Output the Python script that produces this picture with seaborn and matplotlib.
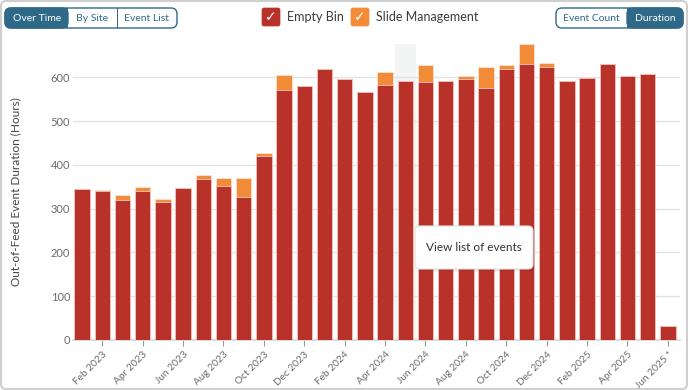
import matplotlib
matplotlib.use("Agg")
import matplotlib.pyplot as plt
from matplotlib.patches import FancyBboxPatch, Rectangle
import seaborn as sns
import pandas as pd

MONTHS = ["Jan 2023", "Feb 2023", "Mar 2023", "Apr 2023", "May 2023", "Jun 2023",
          "Jul 2023", "Aug 2023", "Sep 2023", "Oct 2023", "Nov 2023", "Dec 2023",
          "Jan 2024", "Feb 2024", "Mar 2024", "Apr 2024", "May 2024", "Jun 2024",
          "Jul 2024", "Aug 2024", "Sep 2024", "Oct 2024", "Nov 2024", "Dec 2024",
          "Jan 2025", "Feb 2025", "Mar 2025", "Apr 2025", "May 2025", "Jun 2025"]
EMPTY_BIN = [344, 340, 320, 340, 316, 347, 367, 352, 327, 421, 571, 579,
             619, 595, 567, 583, 592, 590, 592, 595, 576, 618, 630, 623,
             592, 599, 631, 604, 608, 33]
SLIDE_MGMT = [1, 2, 12, 9, 7, 0, 10, 18, 42, 7, 34, 0,
              0, 2, 0, 29, 0, 37, 0, 9, 48, 11, 46, 9,
              0, 0, 0, 0, 0, 0]
TICK_LABELS = ["Feb 2023", "Apr 2023", "Jun 2023", "Aug 2023", "Oct 2023", "Dec 2023",
               "Feb 2024", "Apr 2024", "Jun 2024", "Aug 2024", "Oct 2024", "Dec 2024",
               "Feb 2025", "Apr 2025", "Jun 2025 *"]
Y_TICKS = [0, 100, 200, 300, 400, 500, 600]
HOVER_MONTH = "May 2024"

RED = "#b8322a"
ORANGE = "#f28c38"
TEAL = "#2e6a88"
GREY_TXT = "#6b6b6b"

sns.set_theme(style="white")
plt.rcParams["font.family"] = ["Lato", "DejaVu Sans"]

df = pd.DataFrame({"month": MONTHS, "empty": EMPTY_BIN, "slide": SLIDE_MGMT})
df["total"] = df["empty"] + df["slide"]

fig = plt.figure(figsize=(6.88, 3.9), dpi=100, facecolor="white")
ax = fig.add_axes([73 / 688, 1 - 340 / 390, (680 - 73) / 688, (340 - 44) / 390])

hover_idx = MONTHS.index(HOVER_MONTH)
ax.axvspan(hover_idx - 0.5, hover_idx + 0.5, color="#f3f4f4", zorder=0)

sns.barplot(data=df, x="month", y="total", color=ORANGE, saturation=1, width=0.76,
            edgecolor="#fbe3d3", linewidth=0.6, ax=ax, zorder=2)
sns.barplot(data=df, x="month", y="empty", color=RED, saturation=1, width=0.76,
            edgecolor="#f0c8c0", linewidth=0.6, ax=ax, zorder=3)

ax.set_xlim(-0.45, 29.6)
ax.set_ylim(0, 676)
ax.set_yticks(Y_TICKS)
ax.set_yticklabels([str(v) for v in Y_TICKS], fontsize=8, color=GREY_TXT)
ax.yaxis.grid(True, color="#e3e3e3", linewidth=1)
ax.set_axisbelow(True)
ax.set_xticks(range(1, len(MONTHS), 2))
ax.set_xticklabels(TICK_LABELS, rotation=45, ha="right", rotation_mode="anchor",
                   fontsize=7.3, color=GREY_TXT)
ax.tick_params(axis="x", length=4, width=0.8, color="#999999", pad=3, bottom=True)
ax.tick_params(axis="y", length=0, pad=2)
ax.set_xlabel("")
ax.set_ylabel("Out-of-Feed Event Duration (Hours)", fontsize=8.5, color="#444444", labelpad=21)
for s in ["top", "right", "left"]:
    ax.spines[s].set_visible(False)
ax.spines["bottom"].set_color("#d8d8d8")

T = fig.dpi_scale_trans


def px(x, y):
    return (x / 100, (390 - y) / 100)


def fpos(x, y):
    return (x / 688, 1 - y / 390)


def box(x0, y0, x1, y1, fc, ec, lw=1, r=4, z=5, alpha=1):
    p = FancyBboxPatch(px(x0, y1), (x1 - x0) / 100, (y1 - y0) / 100,
                       boxstyle=f"round,pad=0,rounding_size={r / 100}",
                       transform=T, fc=fc, ec=ec, lw=lw, zorder=z, alpha=alpha)
    fig.add_artist(p)


# frame
box(1, 1, 687, 389, "none", "#cfcfcf", lw=1.5, r=5)

# left button group
box(5, 8, 177, 28, "white", TEAL, lw=1, r=6)
box(5, 8, 68, 28, TEAL, TEAL, lw=1, r=6, z=6)
fig.add_artist(Rectangle(px(58, 28), 0.1, 0.2, transform=T, fc=TEAL, ec="none", zorder=6))
fig.add_artist(Rectangle(px(117, 28), 0.01, 0.2, transform=T, fc=TEAL, ec="none", zorder=6, lw=0))
for label, cx, col in [("Over Time", 37, "white"), ("By Site", 92.5, TEAL), ("Event List", 147, TEAL)]:
    fig.text(*fpos(cx, 18.5), label, ha="center", va="center", fontsize=7.5, color=col, zorder=7)

# right button group
box(556, 8, 683, 28, "white", TEAL, lw=1, r=6)
box(627, 8, 683, 28, TEAL, TEAL, lw=1, r=6, z=6)
fig.add_artist(Rectangle(px(627, 28), 0.1, 0.2, transform=T, fc=TEAL, ec="none", zorder=6))
for label, cx, col in [("Event Count", 591.5, TEAL), ("Duration", 655, "white")]:
    fig.text(*fpos(cx, 18.5), label, ha="center", va="center", fontsize=7.5, color=col, zorder=7)

# legend checkboxes
for x0, col, label in [(262, RED, "Empty Bin"), (351, ORANGE, "Slide Management")]:
    box(x0, 8, x0 + 18, 26, col, col, lw=0.5, r=2)
    fig.text(*fpos(x0 + 9, 17.5), "\u2713", ha="center", va="center",
             fontsize=10, color="white", family="DejaVu Sans", zorder=7)
    fig.text(*fpos(x0 + 25, 17), label, ha="left", va="center",
             fontsize=9, color="#3a3a3a", zorder=7)

# hover tooltip
box(417, 228, 535, 271, "#000000", "none", r=5, z=8, alpha=0.08)
box(415, 226, 533, 269, "white", "#e2e2e2", lw=0.8, r=5, z=9)
fig.text(*fpos(474, 247.5), "View list of events", ha="center",
         va="center", fontsize=8.5, color="#333333", zorder=10)

fig.savefig("out.png", dpi=100, facecolor="white")
